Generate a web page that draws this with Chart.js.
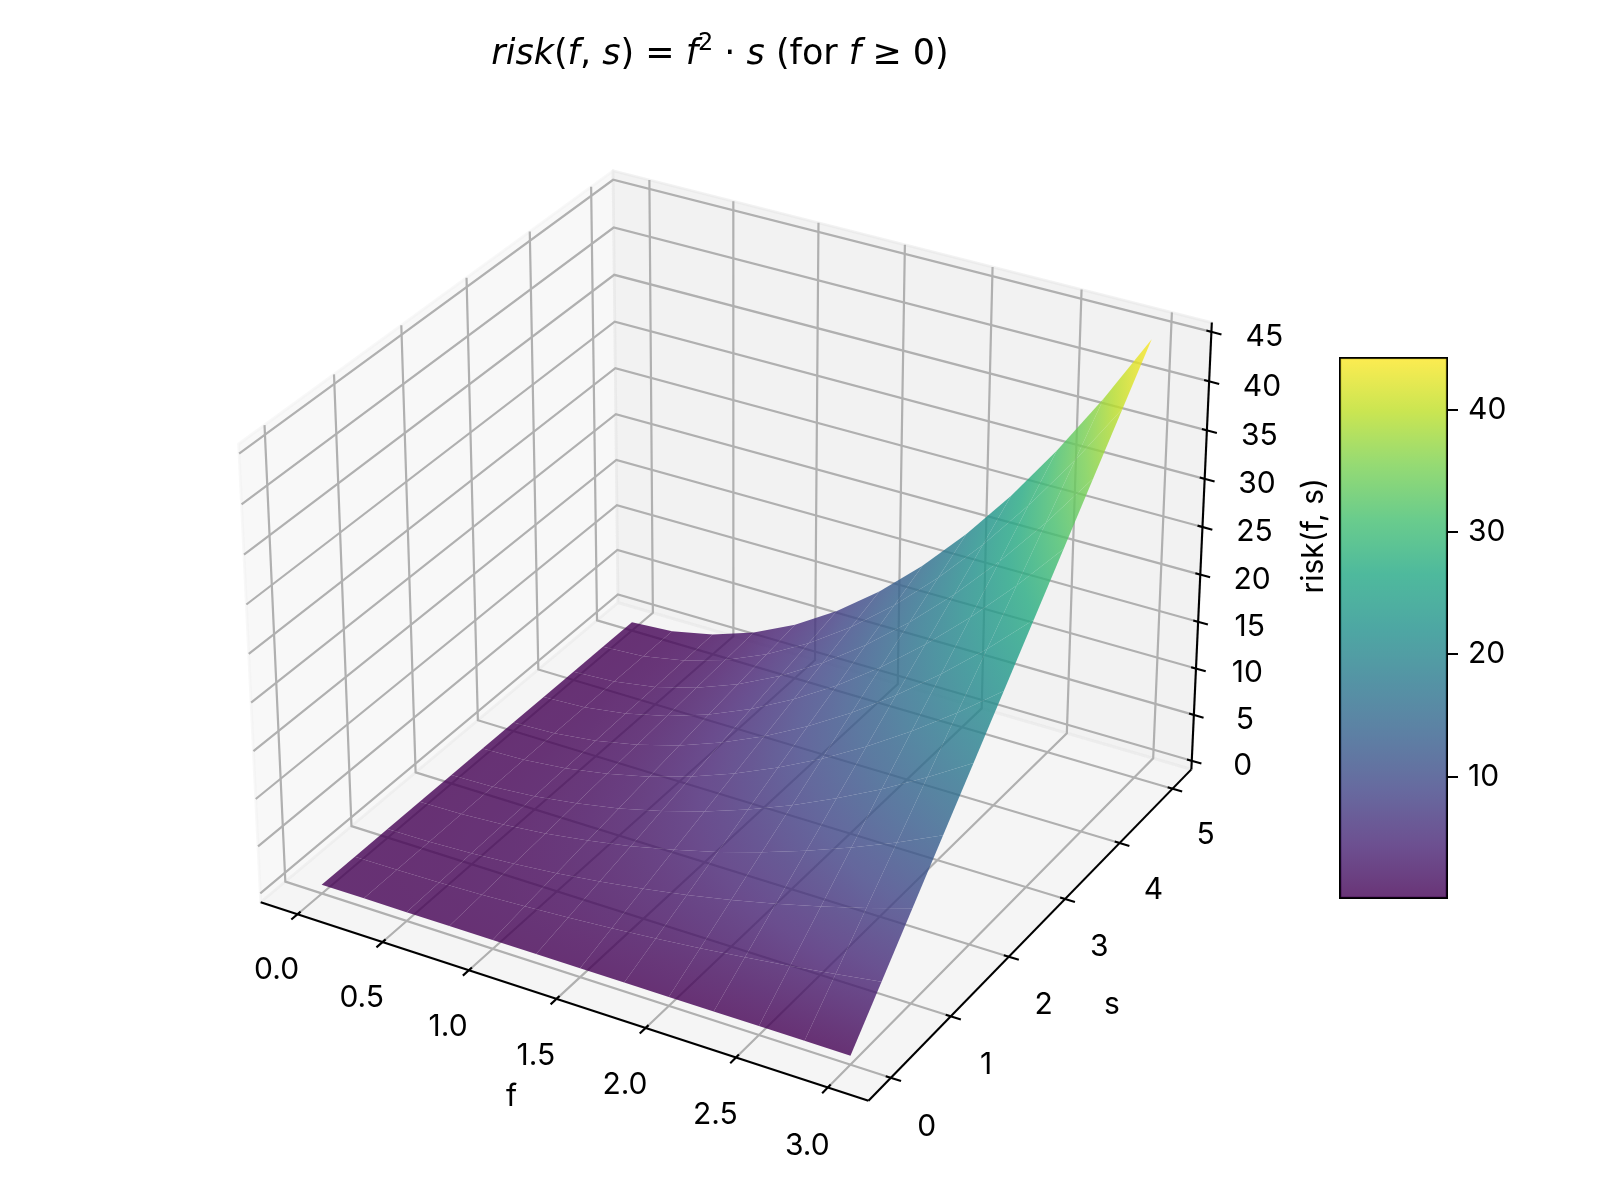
<!DOCTYPE html>
<html>
<head>
<meta charset="utf-8">
<title>risk(f, s) surface</title>
<script src="https://cdn.jsdelivr.net/npm/chart.js@4.4.1/dist/chart.umd.min.js"></script>
<style>
  html, body { margin: 0; padding: 0; background: #fff; }
  #wrap { position: relative; width: 1600px; height: 1200px; }
  #surface { position: absolute; left: 0; top: 0; }
  #colorbar { position: absolute; left: 1339px; top: 327px; }
</style>
</head>
<body>
<div id="wrap">
  <canvas id="surface" width="1600" height="1200"></canvas>
  <canvas id="colorbar" width="209" height="602"></canvas>
</div>
<script>
// grid the surface is sampled on
const fValues = [0, 0.25, 0.5, 0.75, 1, 1.25, 1.5, 1.75, 2, 2.25, 2.5, 2.75, 3];
const sValues = [0, 0.5, 1, 1.5, 2, 2.5, 3, 3.5, 4, 4.5, 5];
// risk: one row per f value, one column per s value
const riskValues = [
  [0, 0, 0, 0, 0, 0, 0, 0, 0, 0, 0],
  [0, 0.03, 0.06, 0.09, 0.13, 0.16, 0.19, 0.22, 0.25, 0.28, 0.31],
  [0, 0.13, 0.25, 0.38, 0.5, 0.63, 0.75, 0.88, 1, 1.13, 1.25],
  [0, 0.28, 0.56, 0.84, 1.13, 1.41, 1.69, 1.97, 2.25, 2.53, 2.81],
  [0, 0.5, 1, 1.5, 2, 2.5, 3, 3.5, 4, 4.5, 5],
  [0, 0.78, 1.56, 2.34, 3.13, 3.91, 4.69, 5.47, 6.25, 7.03, 7.81],
  [0, 1.13, 2.25, 3.38, 4.5, 5.63, 6.75, 7.88, 9, 10.13, 11.25],
  [0, 1.53, 3.06, 4.59, 6.13, 7.66, 9.19, 10.72, 12.25, 13.78, 15.31],
  [0, 2, 4, 6, 8, 10, 12, 14, 16, 18, 20],
  [0, 2.53, 5.06, 7.59, 10.13, 12.66, 15.19, 17.72, 20.25, 22.78, 25.31],
  [0, 3.13, 6.25, 9.38, 12.5, 15.63, 18.75, 21.88, 25, 28.13, 31.25],
  [0, 3.78, 7.56, 11.34, 15.13, 18.91, 22.69, 26.47, 30.25, 34.03, 37.81],
  [0, 4.5, 9, 13.5, 18, 22.5, 27, 31.5, 36, 40.5, 45]
];
const fTicks = [0, 0.5, 1, 1.5, 2, 2.5, 3];
const sTicks = [0, 1, 2, 3, 4, 5];
const riskTicks = [0, 5, 10, 15, 20, 25, 30, 35, 40, 45];
const colorTicks = [10, 20, 30, 40];
const colorRange = [0, 44.3];

const TICK_FONT = '30px Inter';
const VIRIDIS = [[68, 1, 84], [72, 36, 117], [65, 68, 135], [53, 95, 141], [42, 120, 142],
  [33, 145, 140], [34, 168, 132], [68, 191, 112], [122, 209, 81], [189, 223, 38], [253, 231, 37]];

function viridis(value) {
  let t = (value - colorRange[0]) / (colorRange[1] - colorRange[0]);
  t = Math.min(1, Math.max(0, t)) * (VIRIDIS.length - 1);
  const i = Math.min(Math.floor(t), VIRIDIS.length - 2), k = t - i;
  const c = VIRIDIS[i].map((a, n) => Math.round(a + (VIRIDIS[i + 1][n] - a) * k));
  return `rgba(${c[0]}, ${c[1]}, ${c[2]}, 0.8)`;
}

// --- 3d view: elevation 30, azimuth -60, perspective from distance 10, box 4:4:3
const ELEV = 30, AZIM = -60, DIST = 10;
function limits(vals, margin) {
  const lo = Math.min(...vals), hi = Math.max(...vals), d = (hi - lo) * margin;
  return [lo - d, hi + d];
}
const lims = [limits(fValues, 0.05), limits(sValues, 0.05), limits(riskValues.flat(), 0)];
const deltas = lims.map(l => (l[1] - l[0]) / 12);
const bounds = lims.map((l, i) => [l[0] - deltas[i] / 4, l[1] + deltas[i] / 4]);
const aspect = [4, 4, 3];
const box = aspect.map(a => a * 1.8294640721620434 / Math.hypot(...aspect));

const dot = (a, b) => a[0] * b[0] + a[1] * b[1] + a[2] * b[2];
const cross = (a, b) => [a[1] * b[2] - a[2] * b[1], a[2] * b[0] - a[0] * b[2], a[0] * b[1] - a[1] * b[0]];
const el = ELEV * Math.PI / 180, az = AZIM * Math.PI / 180;
const viewW = [Math.cos(el) * Math.cos(az), Math.cos(el) * Math.sin(az), Math.sin(el)];
const eye = box.map((b, i) => b / 2 + DIST * viewW[i]);
const uRaw = cross([0, 0, 1], viewW), uLen = Math.hypot(...uRaw);
const viewU = uRaw.map(c => c / uLen);
const viewV = cross(viewW, viewU);

function project(p) {
  const q = p.map((v, i) => (v - lims[i][0]) / (lims[i][1] - lims[i][0]) * box[i] - eye[i]);
  const depth = -dot(viewW, q);
  return { x: dot(viewU, q) / depth, y: dot(viewV, q) / depth, depth: depth };
}

// surface cells, nearest first (Chart.js paints dataset 0 last)
const cells = [];
for (let i = 0; i < fValues.length - 1; i++) {
  for (let j = 0; j < sValues.length - 1; j++) {
    const corners = [[i, j], [i + 1, j], [i + 1, j + 1], [i, j + 1]]
      .map(([a, b]) => [fValues[a], sValues[b], riskValues[a][b]]);
    const pts = corners.map(project);
    cells.push({ corners, pts, depth: pts.reduce((s, p) => s + p.depth, 0) / 4 });
  }
}
cells.sort((a, b) => a.depth - b.depth);

function cellFill(chart, cell) {
  const xs = chart.scales.x, ys = chart.scales.y;
  if (!xs || !chart.chartArea) return viridis(0);
  const px = cell.pts.map(p => xs.getPixelForValue(p.x));
  const py = cell.pts.map(p => ys.getPixelForValue(p.y));
  const z = cell.corners.map(c => c[2]);
  const mean = a => a.reduce((s, v) => s + v, 0) / a.length;
  const mx = mean(px), my = mean(py), mz = mean(z);
  let sxx = 0, sxy = 0, syy = 0, sxz = 0, syz = 0;
  for (let k = 0; k < 4; k++) {
    const dx = px[k] - mx, dy = py[k] - my, dz = z[k] - mz;
    sxx += dx * dx; sxy += dx * dy; syy += dy * dy; sxz += dx * dz; syz += dy * dz;
  }
  const zlo = Math.min(...z), zhi = Math.max(...z);
  const det = sxx * syy - sxy * sxy;
  if (zhi - zlo < 1e-6 || Math.abs(det) < 1e-9) return viridis(mz);
  const a = (sxz * syy - syz * sxy) / det, b = (syz * sxx - sxz * sxy) / det;
  const g2 = a * a + b * b;
  if (g2 < 1e-12) return viridis(mz);
  const k0 = (zlo - mz) / g2, k1 = (zhi - mz) / g2;
  const grad = chart.ctx.createLinearGradient(mx + a * k0, my + b * k0, mx + a * k1, my + b * k1);
  for (let t = 0; t <= 4; t++) grad.addColorStop(t / 4, viridis(zlo + (zhi - zlo) * t / 4));
  return grad;
}

const axes3d = {
  id: 'axes3d',
  beforeDatasetsDraw(chart) {
    const ctx = chart.ctx;
    const pt = p => {
      const q = project(p);
      return [chart.scales.x.getPixelForValue(q.x), chart.scales.y.getPixelForValue(q.y)];
    };
    const poly = (pts, close) => {
      ctx.beginPath();
      pts.forEach((p, i) => { const q = pt(p); i ? ctx.lineTo(q[0], q[1]) : ctx.moveTo(q[0], q[1]); });
      if (close) ctx.closePath();
    };
    const [[x0, x1], [y0, y1], [z0, z1]] = bounds;
    const [dx, dy, dz] = deltas;
    ctx.save();

    const panes = [
      [[[x0, y0, z0], [x0, y1, z0], [x0, y1, z1], [x0, y0, z1]], 'rgba(242, 242, 242, 0.5)'],
      [[[x0, y1, z0], [x1, y1, z0], [x1, y1, z1], [x0, y1, z1]], 'rgba(230, 230, 230, 0.5)'],
      [[[x0, y0, z0], [x1, y0, z0], [x1, y1, z0], [x0, y1, z0]], 'rgba(236, 236, 236, 0.5)']
    ];
    ctx.lineWidth = 2.8;
    ctx.lineJoin = 'round';
    panes.forEach(([pts, col]) => {
      poly(pts, true);
      ctx.fillStyle = col; ctx.fill();
      ctx.strokeStyle = col; ctx.stroke();
    });

    ctx.strokeStyle = '#b0b0b0';
    ctx.lineWidth = 2.2;
    ctx.lineJoin = 'miter';
    fTicks.forEach(t => { poly([[t, y0, z0], [t, y1, z0], [t, y1, z1]]); ctx.stroke(); });
    sTicks.forEach(t => { poly([[x1, t, z0], [x0, t, z0], [x0, t, z1]]); ctx.stroke(); });
    riskTicks.forEach(t => { poly([[x0, y0, t], [x0, y1, t], [x1, y1, t]]); ctx.stroke(); });

    ctx.strokeStyle = '#000';
    ctx.lineWidth = 2.1;
    poly([[x0, y0, z0], [x1, y0, z0]]); ctx.stroke();
    poly([[x1, y0, z0], [x1, y1, z0]]); ctx.stroke();
    poly([[x1, y1, z0], [x1, y1, z1]]); ctx.stroke();
    fTicks.forEach(t => { poly([[t, y0 - 0.2 * dy, z0], [t, y0 + 0.1 * dy, z0]]); ctx.stroke(); });
    sTicks.forEach(t => { poly([[x1 + 0.2 * dx, t, z0], [x1 - 0.1 * dx, t, z0]]); ctx.stroke(); });
    riskTicks.forEach(t => { poly([[x1 + 0.2 * dx, y1, t], [x1 - 0.1 * dx, y1, t]]); ctx.stroke(); });

    ctx.fillStyle = '#000';
    ctx.font = TICK_FONT;
    ctx.textAlign = 'center';
    ctx.textBaseline = 'middle';
    const text = (txt, p, shift) => { const q = pt(p); ctx.fillText(txt, q[0], q[1] + shift); };
    const tl = 0.71, al = 1.54;
    fTicks.forEach(t => text(t.toFixed(1), [t, y0 - tl * dy, z0 - tl * dz], 12));
    sTicks.forEach(t => text(String(t), [x1 + tl * dx, t, z0 - tl * dz], 12));
    riskTicks.forEach(t => text(String(t), [x1 + tl * dx, y1 + tl * dy, t], 12));

    text('f', [(x0 + x1) / 2, y0 - al * dy, z0 - al * dz], 0);
    text('s', [x1 + al * dx, (y0 + y1) / 2, z0 - al * dz], 0);
    const zl = pt([x1 + al * dx, y1 + al * dy, (z0 + z1) / 2]);
    ctx.translate(zl[0], zl[1]);
    ctx.rotate(-Math.PI / 2);
    ctx.fillText('risk(f, s)', 0, 0);
    ctx.restore();
  },
  afterDraw(chart) {
    const ctx = chart.ctx;
    const runs = [['risk', 'i'], ['(', ''], ['f', 'i'], [', ', ''], ['s', 'i'], [')', ''], [' = ', ''],
      ['f', 'i'], ['2', 'sup'], [' \u00b7 ', ''], ['s', 'i'], [' (for ', ''], ['f', 'i'], [' \u2265 0)', '']];
    const fontFor = k => k === 'i' ? 'italic 35px "DejaVu Sans"' : k === 'sup' ? '24px "DejaVu Sans"' : '35px "DejaVu Sans"';
    ctx.save();
    ctx.fillStyle = '#000';
    ctx.textAlign = 'left';
    ctx.textBaseline = 'alphabetic';
    let width = 0;
    runs.forEach(([t, k]) => { ctx.font = fontFor(k); width += ctx.measureText(t).width; });
    let x = (chart.chartArea.left + chart.chartArea.right) / 2 - width / 2;
    runs.forEach(([t, k]) => {
      ctx.font = fontFor(k);
      ctx.fillText(t, x, k === 'sup' ? 50 : 64);
      x += ctx.measureText(t).width;
    });
    ctx.restore();
  }
};

new Chart(document.getElementById('surface'), {
  type: 'line',
  data: {
    datasets: cells.map(cell => ({
      data: cell.pts.map(p => ({ x: p.x, y: p.y })),
      fill: 'shape',
      borderWidth: 0,
      pointRadius: 0,
      tension: 0,
      clip: false,
      backgroundColor: c => cellFill(c.chart, cell)
    }))
  },
  options: {
    responsive: false,
    animation: false,
    devicePixelRatio: 1,
    events: [],
    layout: { padding: { left: 179, top: 87, right: 339, bottom: 31 } },
    plugins: { legend: { display: false }, tooltip: { enabled: false } },
    scales: {
      x: { type: 'linear', min: -0.095, max: 0.09, display: false },
      y: { type: 'linear', min: -0.095, max: 0.09, display: false }
    }
  },
  plugins: [axes3d]
});

new Chart(document.getElementById('colorbar'), {
  type: 'bar',
  data: {
    labels: ['risk'],
    datasets: [{
      data: [colorRange.slice()],
      backgroundColor: c => {
        const area = c.chart.chartArea;
        if (!area) return viridis(0);
        const g = c.chart.ctx.createLinearGradient(0, area.bottom, 0, area.top);
        for (let t = 0; t <= 20; t++) g.addColorStop(t / 20, viridis(colorRange[0] + (colorRange[1] - colorRange[0]) * t / 20));
        return g;
      },
      borderColor: '#000',
      borderWidth: 2,
      borderSkipped: false,
      barPercentage: 1,
      categoryPercentage: 1
    }]
  },
  options: {
    responsive: false,
    animation: false,
    devicePixelRatio: 1,
    events: [],
    layout: { padding: { left: 0, right: 0, top: 30, bottom: 30 } },
    plugins: { legend: { display: false }, tooltip: { enabled: false } },
    scales: {
      x: { display: false },
      y: {
        position: 'right',
        min: colorRange[0],
        max: colorRange[1],
        afterBuildTicks: axis => { axis.ticks = colorTicks.map(v => ({ value: v })); },
        afterFit: axis => { axis.width = 100; },
        grid: { drawOnChartArea: false, drawTicks: true, tickLength: 10, color: '#000', lineWidth: 2 },
        border: { display: false },
        ticks: { padding: 10, color: '#000', font: { family: 'Inter', size: 30 } }
      }
    }
  }
});
</script>
</body>
</html>
